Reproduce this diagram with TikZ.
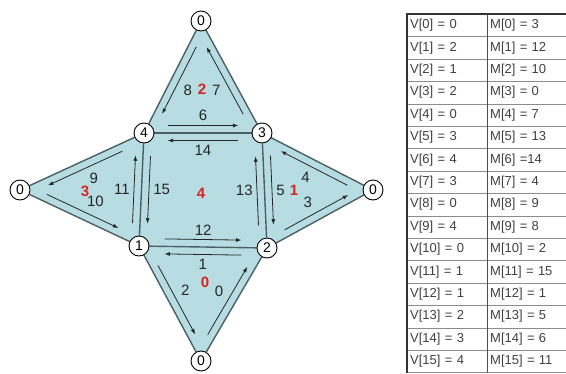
\documentclass[tikz,border=0pt]{standalone}
\usepackage{fontspec}
\setmainfont{Liberation Sans}
\usetikzlibrary{calc,arrows.meta,backgrounds}

\definecolor{facefill}{RGB}{183,221,226}
\definecolor{edgegray}{RGB}{75,95,100}
\definecolor{facered}{RGB}{215,35,35}
\definecolor{tablegray}{RGB}{140,140,140}

\tikzset{
  vert/.style={circle,draw,fill=white,line width=0.9pt,minimum size=20pt,inner sep=0pt,font=\fontsize{14}{14}\selectfont},
  edge/.style={edgegray,line width=1.4pt},
  half/.style={-{Latex[length=5.5pt,width=4pt]},line width=0.8pt,black!85},
  lbl/.style={auto,inner sep=4pt,font=\fontsize{15}{15}\selectfont},
  facelbl/.style={text=facered,font=\fontsize{15}{15}\selectfont\bfseries},
  cell/.style={rectangle,draw=tablegray,minimum height=22.4pt,anchor=north west,inner sep=3pt,align=left,font=\fontsize{13}{13}\selectfont,text=black!75}
}

% half-edge running beside the edge from #1 to #2, inside its face
\newcommand{\halfedge}[3]{
  \draw[half] ($(#1)!0.2!(#2)!7.5pt!90:(#2)$) -- node[lbl] {#3} ($(#1)!0.8!(#2)!7.5pt!90:(#2)$);
}

\begin{document}
\begin{tikzpicture}[x=1pt,y=-1pt]
  \useasboundingbox (0,0) rectangle (566,373);

  % vertices
  \node[vert] (v0t) at (201,21) {0};
  \node[vert] (v4) at (144,133) {4};
  \node[vert] (v3) at (262,133) {3};
  \node[vert] (v1) at (139,246) {1};
  \node[vert] (v2) at (267,248) {2};
  \node[vert] (v0l) at (20,190) {0};
  \node[vert] (v0r) at (373,190) {0};
  \node[vert] (v0b) at (201,361) {0};

  \begin{scope}[on background layer]
    \fill[facefill] (v0t.center) -- (v3.center) -- (v0r.center) -- (v2.center) -- (v0b.center) -- (v1.center) -- (v0l.center) -- (v4.center) -- cycle;
    \foreach \a/\b in {v0t/v3,v3/v0r,v0r/v2,v2/v0b,v0b/v1,v1/v0l,v0l/v4,v4/v0t,v4/v3,v3/v2,v2/v1,v1/v4}
      \draw[edge] (\a) -- (\b);
  \end{scope}

  % faces
  \node[facelbl] (f0) at (205,282) {0};
  \node[facelbl] (f1) at (294,190) {1};
  \node[facelbl] (f2) at (202,89) {2};
  \node[facelbl] (f3) at (85,191) {3};
  \node[facelbl] (f4) at (201,193) {4};

  % half-edges
  \halfedge{v0b}{v2}{0}
  \halfedge{v2}{v1}{1}
  \halfedge{v1}{v0b}{2}
  \halfedge{v2}{v0r}{3}
  \halfedge{v0r}{v3}{4}
  \halfedge{v3}{v2}{5}
  \halfedge{v4}{v3}{6}
  \halfedge{v3}{v0t}{7}
  \halfedge{v0t}{v4}{8}
  \halfedge{v4}{v0l}{9}
  \halfedge{v0l}{v1}{10}
  \halfedge{v1}{v4}{11}
  \halfedge{v1}{v2}{12}
  \halfedge{v2}{v3}{13}
  \halfedge{v3}{v4}{14}
  \halfedge{v4}{v1}{15}

  % table
  \foreach \i/\v/\m in {0/0/= 3,1/2/= 12,2/1/= 10,3/2/= 0,4/0/= 7,5/3/= 13,6/4/=14,7/3/= 4,
                        8/0/= 9,9/4/= 8,10/0/= 2,11/1/= 15,12/1/= 1,13/2/= 5,14/3/= 6,15/4/= 11} {
    \node[cell,minimum width=80pt,text width=74pt] (vcell\i) at (407,{14+22.4*\i}) {V[\i] = \v};
    \node[cell,minimum width=90pt,text width=84pt] (mcell\i) at (487,{14+22.4*\i}) {M[\i] \m};
  }
  \draw[line width=1.2pt,black!80] (vcell15.south west) -- (vcell0.north west) -- (mcell0.north east);
  \draw[line width=0.9pt,black!70] (vcell0.north east) -- (vcell15.south east);
\end{tikzpicture}
\end{document}
